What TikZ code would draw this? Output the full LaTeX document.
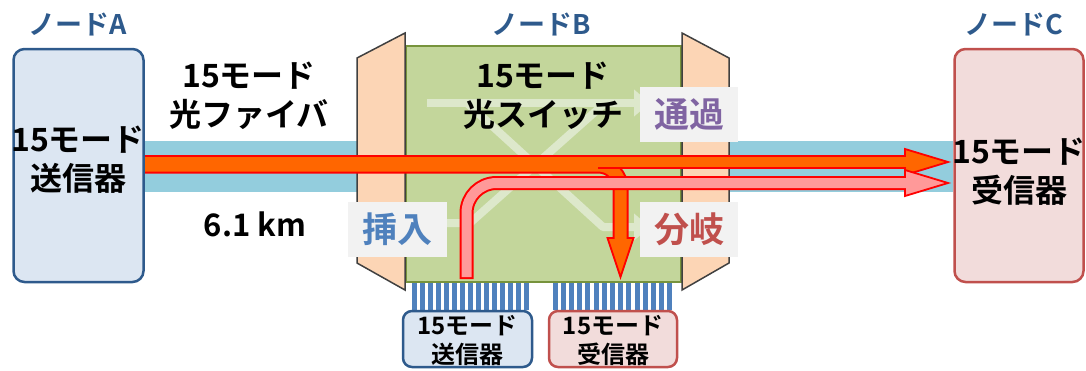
\documentclass[tikz,border=0pt]{standalone}
\usepackage{fontspec}
\setmainfont{Noto Sans CJK JP}[BoldFont={* Bold}]
\usetikzlibrary{arrows.meta}
\definecolor{nodeblue}{HTML}{2E5A8C}
\definecolor{txF}{HTML}{DCE6F2}
\definecolor{txB}{HTML}{2E5A8C}
\definecolor{rxF}{HTML}{F2DCDB}
\definecolor{rxB}{HTML}{C0504D}
\definecolor{swF}{HTML}{C3D69B}
\definecolor{swB}{HTML}{77933C}
\definecolor{peach}{HTML}{FCD5B5}
\definecolor{trapB}{HTML}{404040}
\definecolor{fiberC}{HTML}{93CDDD}
\definecolor{orangeA}{HTML}{FF6600}
\definecolor{pinkA}{HTML}{FF9999}
\definecolor{grayBox}{HTML}{F2F2F2}
\definecolor{purpleT}{HTML}{8064A2}
\definecolor{redT}{HTML}{C0504D}
\definecolor{blueT}{HTML}{4F81BD}
\definecolor{faint}{HTML}{DDE8CB}
\newcommand\fsz[2]{\fontsize{#1}{#2}\selectfont\bfseries}
\begin{document}
\begin{tikzpicture}[x=1pt,y=-1pt,
  txbox/.style={draw=txB, fill=txF, line width=2.5pt, rounded corners=11pt, inner sep=0pt},
  rxbox/.style={draw=rxB, fill=rxF, line width=2.5pt, rounded corners=11pt, inner sep=0pt},
  txt/.style={inner sep=0pt, align=center, text=black},
  lbl/.style={inner sep=0pt, text=nodeblue, font=\fsz{27}{30}},
  tagbox/.style={fill=grayBox, inner sep=0pt, minimum width=98pt, minimum height=55pt, font=\fsz{35}{40}},
  trap/.style={fill=peach, draw=trapB, line width=1.5pt, line join=miter},
  fib/.style={draw=blueT, line width=5pt},
  faintline/.style={draw=faint, line width=8pt, -{Triangle[width=26pt,length=16pt]}},
  headO/.style={fill=orangeA, draw=red, line width=1.8pt, line join=miter},
  headP/.style={fill=pinkA, draw=red, line width=1.8pt, line join=miter}
]
\useasboundingbox (0,0) rectangle (1086,370);

% fiber band
\fill[fiberC] (145,141) rectangle (953,192);

% node labels
\node[lbl] (LA) at (78,24) {ノードA};
\node[lbl] (LB) at (541,24) {ノードB};
\node[lbl] (LC) at (1014,24) {ノードC};

% node A and C boxes
\node[txbox, minimum width=130pt, minimum height=233pt] (A) at (78.5,165.5) {};
\node[txt, font=\fsz{32}{39}] (At) at (78,160) {15モード\\送信器};
\node[rxbox, minimum width=129pt, minimum height=233pt] (C) at (1019,165.5) {};
\node[txt, font=\fsz{32}{39}] (Ct) at (1019,172) {15モード\\受信器};

% fiber texts
\node[txt, font=\fsz{32}{39}] (F1) at (249,96) {15モード\\光ファイバ};
\node[txt, font=\fsz{31}{36}] (F2) at (255,224) {6.1 km};

% switch
\node[draw=swB, fill=swF, line width=2.5pt, minimum width=275pt, minimum height=236pt, inner sep=0pt] (SW) at (543.5,164) {};
\draw[trap] (357,58) -- (405,33) -- (405,290) -- (357,263) -- cycle;
\draw[trap] (682,33) -- (729,58) -- (729,263) -- (682,290) -- cycle;

% faint internal routes
\draw[faintline] (427,103) -- (650,103);
\draw[faintline, line join=round] (467,103) -- (603,227) -- (650,227);
\draw[faint, line width=8pt, line join=round] (440,223) -- (470,223) -- (605,103) -- (620,103);

\node[txt, font=\fsz{32}{39}] (SWt) at (543,96) {15モード\\光スイッチ};

% tag boxes
\node[tagbox, text=purpleT] (pass) at (689,114.5) {通過};
\node[tagbox, text=redT] (drop) at (689,229.5) {分岐};
\node[tagbox, text=blueT, minimum width=99pt] (add) at (397.5,229.5) {挿入};

% bottom fibers
\foreach \i in {0,...,14}{
  \draw[fib] ({414+\i*8.0},283) -- ({414+\i*8.0},310);
  \draw[fib] ({555+\i*8.2},283) -- ({555+\i*8.2},310);
}
% bottom boxes
\node[txbox, rounded corners=9pt, minimum width=129pt, minimum height=56pt] (TX) at (467.5,339) {};
\node[txt, font=\fsz{24}{29}] (TXt) at (467.5,341) {15モード\\送信器};
\node[rxbox, rounded corners=9pt, minimum width=128pt, minimum height=56pt] (RX) at (613,339) {};
\node[txt, font=\fsz{24}{29}] (RXt) at (613,341) {15モード\\受信器};

% orange arrows (through + drop)
\draw[red, line width=16pt, rounded corners=22pt] (145,165.5) -- (620.5,165.5) -- (620.5,239);
\draw[red, line width=14pt] (145,162) -- (906,162);
\filldraw[headO] (905,149) -- (948,162) -- (905,175) -- cycle;
\filldraw[headO] (607.5,238) -- (620.5,277) -- (633.5,238) -- cycle;
\draw[orangeA, line width=12pt, rounded corners=22pt] (145,165.5) -- (620.5,165.5) -- (620.5,241);
\draw[orangeA, line width=10pt] (145,162) -- (908,162);
\draw[red, line width=1.8pt] (598,168) -- (905,168);

% pink arrow (add)
\draw[red, line width=14pt, rounded corners=30pt] (466.5,279) -- (466.5,183) -- (906,183);
\filldraw[headP] (905,170) -- (948,183) -- (905,196) -- cycle;
\draw[pinkA, line width=10pt, rounded corners=30pt] (466.5,277) -- (466.5,183) -- (908,183);
\end{tikzpicture}
\end{document}
